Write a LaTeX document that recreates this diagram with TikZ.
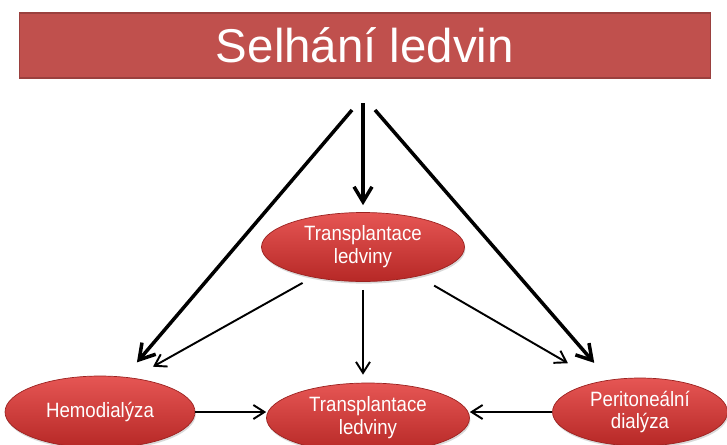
\documentclass[tikz,border=0pt]{standalone}
\usepackage{fontspec}
\setmainfont{Liberation Sans}
\newfontfamily\ovalfont[FakeStretch=0.9]{Liberation Sans}
\usetikzlibrary{arrows.meta,shapes.geometric,shadows}
\definecolor{titlered}{RGB}{192,80,77}
\definecolor{lightred}{RGB}{230,86,84}
\definecolor{darkred}{RGB}{182,40,38}

\begin{document}
\begin{tikzpicture}[x=0.02cm,y=-0.02cm,
		oval/.style={ellipse,draw=darkred!85!black,line width=0.4pt,
			top color=lightred,bottom color=darkred,text=white,align=center,
			inner sep=0pt,font=\ovalfont\fontsize{11.8}{13}\selectfont,
			drop shadow={opacity=0.3,shadow xshift=0.5pt,shadow yshift=-1.2pt}},
		bigarrow/.style={-{Straight Barb[length=3mm,width=3.6mm]},line width=2pt},
		smallarrow/.style={-{Straight Barb[length=2.2mm,width=2.8mm]},line width=1.1pt}]
		% canvas
		\path[use as bounding box,clip] (0,0) rectangle (727,444);
		
		% title bar
		\node[fill=titlered,draw=titlered!80!black,line width=0.6pt,
		minimum width=13.84cm,minimum height=1.3cm,text=white,
		font=\fontsize{27}{30}\selectfont] (nadpis) at (365,45.5) {Selhání ledvin};
		
		% ovals
		\node[oval,minimum width=4.06cm,minimum height=1.38cm] (tr1) at (363,247) {Transplantace\\ledviny};
		\node[oval,minimum width=3.8cm,minimum height=1.44cm] (hemo) at (100,412) {Hemodialýza};
		\node[oval,minimum width=4.06cm,minimum height=1.4cm] (tr2) at (368,418) {Transplantace\\ledviny};
		\node[oval,minimum width=3.5cm,minimum height=1.36cm] (peri) at (640,412) {Peritoneální\\dialýza};
		
		% starting points below the title
		\coordinate (zdrojL) at (352,110);
		\coordinate (zdrojS) at (363,103);
		\coordinate (zdrojP) at (375,110);
		
		% thick arrows
		\draw[bigarrow,shorten >=0.14cm] (zdrojS) -- (tr1.north);
		\draw[bigarrow,shorten >=0.38cm] (zdrojL) -- (hemo.55);
		\draw[bigarrow,shorten >=0.45cm] (zdrojP) -- (peri.134);
		
		% thin arrows
		\draw[smallarrow,shorten <=0.23cm,shorten >=0.46cm] (tr1.211) -- (hemo.46);
		\draw[smallarrow,shorten <=0.16cm,shorten >=0.16cm] (tr1.south) -- (tr1.south |- tr2.north);
		\draw[smallarrow,shorten <=0.37cm,shorten >=0.73cm] (tr1.332) -- (peri.143);
		\draw[smallarrow] (hemo.east) -- (hemo.east -| tr2.west);
		\draw[smallarrow] (peri.west) -- (peri.west -| tr2.east);
		
	\end{tikzpicture}
\end{document}
